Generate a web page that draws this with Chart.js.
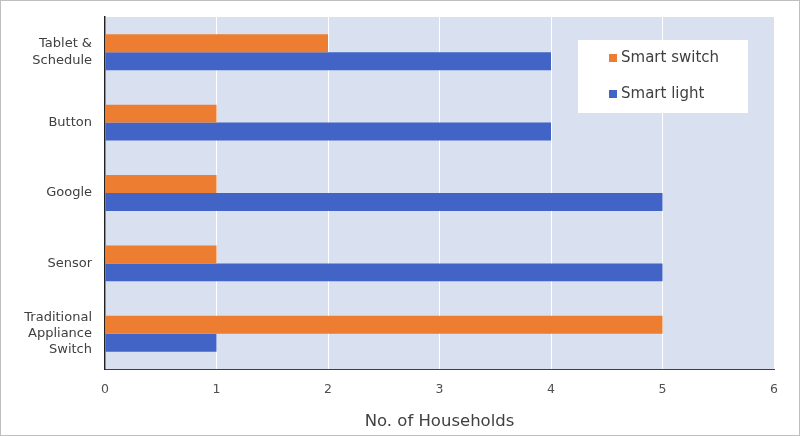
<!DOCTYPE html>
<html>
<head>
<meta charset="utf-8">
<script src="https://cdn.jsdelivr.net/npm/chart.js@4/dist/chart.umd.min.js"></script>
<style>
  html, body { margin: 0; padding: 0; background: #fff; }
  #wrap { width: 800px; height: 436px; position: relative; }
</style>
</head>
<body>
<div id="wrap"><canvas id="chart" width="800" height="436"></canvas></div>
<script>
const CATEGORIES   = [["Tablet &", "Schedule"], "Button", "Google", "Sensor", ["Traditional", "Appliance", "Switch"]];
const SMART_SWITCH = [2, 1, 1, 1, 5];
const SMART_LIGHT  = [4, 4, 5, 5, 1];
const X_TICKS      = [0, 1, 2, 3, 4, 5, 6];

const ORANGE = "#ED7D31";
const BLUE   = "#4264C6";
const TEXT   = "#404040";

/* ── Plugins ────────────────────────────────────────── */
const plotBackground = {
  id: "plotBackground",
  beforeDraw(chart) {
    const { ctx, chartArea: a } = chart;
    ctx.save();
    ctx.fillStyle = "#D9E0F0";
    ctx.fillRect(a.left, a.top, a.right - a.left, a.bottom - a.top);
    ctx.restore();
  }
};

const insideLegend = {
  id: "insideLegend",
  afterDatasetsDraw(chart) {
    const { ctx, chartArea: a } = chart;
    const x = a.right - 196, y = a.top + 23;
    ctx.save();
    ctx.fillStyle = "#ffffff";
    ctx.fillRect(x, y, 170, 73);
    ctx.font = "15px 'DejaVu Sans'";
    ctx.textBaseline = "middle";
    chart.data.datasets.forEach((ds, i) => {
      const cy = y + 18 + i * 36;
      ctx.fillStyle = ds.backgroundColor;
      ctx.fillRect(x + 31, cy - 4, 8, 8);
      ctx.fillStyle = TEXT;
      ctx.fillText(ds.label, x + 43, cy);
    });
    ctx.restore();
  }
};

const frame = {
  id: "frame",
  afterDraw(chart) {
    const { ctx, width, height } = chart;
    ctx.save();
    ctx.strokeStyle = "#BFBFBF";
    ctx.lineWidth = 1;
    ctx.strokeRect(0.5, 0.5, width - 1, height - 1);
    ctx.restore();
  }
};

/* ── Gráfica ────────────────────────────────────────── */
new Chart(document.getElementById("chart"), {
  type: "bar",
  data: {
    labels: CATEGORIES,
    datasets: [
      { label: "Smart switch", data: SMART_SWITCH, backgroundColor: ORANGE },
      { label: "Smart light",  data: SMART_LIGHT,  backgroundColor: BLUE }
    ]
  },
  options: {
    indexAxis: "y",
    responsive: false,
    animation: false,
    categoryPercentage: 0.51,
    barPercentage: 1.0,
    layout: { padding: { left: 0, top: 17, right: 26, bottom: 0 } },
    plugins: {
      legend: { display: false },
      tooltip: { enabled: false }
    },
    scales: {
      x: {
        min: X_TICKS[0],
        max: X_TICKS[X_TICKS.length - 1],
        afterBuildTicks: s => { s.ticks = X_TICKS.map(v => ({ value: v })); },
        afterFit: s => { s.height = 67; s.paddingLeft = 0; s.paddingRight = 0; },
        grid: { color: "#ffffff", lineWidth: 1, drawTicks: false },
        border: { display: true, color: "#404040", width: 1 },
        ticks: { color: "#505050", padding: 13, font: { family: "DejaVu Sans", size: 12.5 } },
        title: {
          display: true,
          text: "No. of Households",
          color: TEXT,
          padding: { top: 13 },
          font: { family: "DejaVu Sans", size: 16.5 }
        }
      },
      y: {
        afterFit: s => { s.width = 105; s.paddingTop = 0; s.paddingBottom = 0; },
        grid: { display: false, drawTicks: false },
        border: { display: true, color: "#222222", width: 1.5 },
        ticks: { color: TEXT, padding: 13, font: { family: "DejaVu Sans", size: 13, lineHeight: 1.25 } }
      }
    }
  },
  plugins: [plotBackground, insideLegend, frame]
});
</script>
</body>
</html>
